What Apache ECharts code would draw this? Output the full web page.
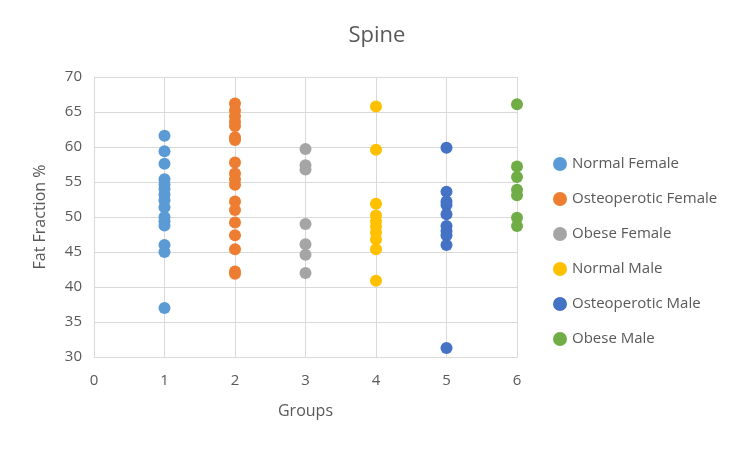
<!DOCTYPE html>
<html><head><meta charset="utf-8">
<script src="https://cdn.jsdelivr.net/npm/echarts@6/dist/echarts.min.js"></script>
<style>html,body{margin:0;padding:0;background:#fff}#c{width:750px;height:449px}</style>
</head><body><div id="c"></div>
<script>
var seriesNames = ["Normal Female","Osteoperotic Female","Obese Female","Normal Male","Osteoperotic Male","Obese Male"];
var groupX = [1,2,3,4,5,6];
var normalFemale = [61.6,59.4,57.6,55.4,54.6,54.0,53.2,52.4,51.4,50.0,49.4,48.8,46.0,45.0,37.0];
var osteoFemale = [66.2,65.2,64.4,63.6,63.0,61.4,61.0,57.8,56.2,55.4,54.6,52.2,51.0,49.2,47.4,45.4,42.2,41.9];
var obeseFemale = [59.7,57.4,56.8,49.0,46.1,44.6,42.0];
var normalMale = [65.8,59.6,51.9,50.2,49.4,48.6,47.8,46.8,45.4,40.9];
var osteoMale = [59.9,53.6,52.2,51.7,50.4,48.7,48.0,47.4,46.0,31.3];
var obeseMale = [66.1,57.2,55.7,53.9,53.1,49.9,48.7];
var colors = ["#5B9BD5","#ED7D31","#A5A5A5","#FFC000","#4472C4","#70AD47"];
var allValues = [normalFemale,osteoFemale,obeseFemale,normalMale,osteoMale,obeseMale];
var xTicks = [0,1,2,3,4,5,6];
var yTicks = [30,35,40,45,50,55,60,65,70];

var font = "Open Sans";
var series = seriesNames.map(function(n,i){
  return {
    name:n, type:'scatter', symbol:'circle', symbolSize:12,
    itemStyle:{color:colors[i], opacity:1},
    data: allValues[i].map(function(v){return [groupX[i], v];})
  };
});
var chart = echarts.init(document.getElementById('c'));
chart.setOption({
  animation:false,
  color:colors,
  title:{text:'Spine', left:372, top:20, textAlign:'center',
    textStyle:{fontFamily:font, fontSize:22, fontWeight:'normal', color:'#595959'}},
  legend:{orient:'vertical', left:548, top:150, itemGap:17, itemWidth:14, itemHeight:14,
    icon:'circle', data:seriesNames,
    textStyle:{fontFamily:font, fontSize:15, color:'#595959', lineHeight:18}},
  grid:{left:94, right:233, top:77, bottom:92},
  xAxis:{type:'value', min:0, max:6, interval:1, name:'Groups', nameLocation:'middle', nameGap:46,
    nameTextStyle:{fontFamily:font, fontSize:16, color:'#595959'},
    axisLine:{show:true, lineStyle:{color:'#d9d9d9'}}, axisTick:{show:false},
    axisLabel:{fontFamily:font, fontSize:15, color:'#595959', margin:16},
    splitLine:{show:true, lineStyle:{color:'#d9d9d9'}}},
  yAxis:{type:'value', min:30, max:70, interval:5, name:'Fat Fraction %', nameLocation:'middle', nameGap:46,
    nameTextStyle:{fontFamily:font, fontSize:16, color:'#595959'},
    axisLine:{show:true, lineStyle:{color:'#d9d9d9'}}, axisTick:{show:false},
    axisLabel:{fontFamily:font, fontSize:15, color:'#595959', margin:12},
    splitLine:{show:true, lineStyle:{color:'#d9d9d9'}}},
  series:series
});
</script></body></html>
